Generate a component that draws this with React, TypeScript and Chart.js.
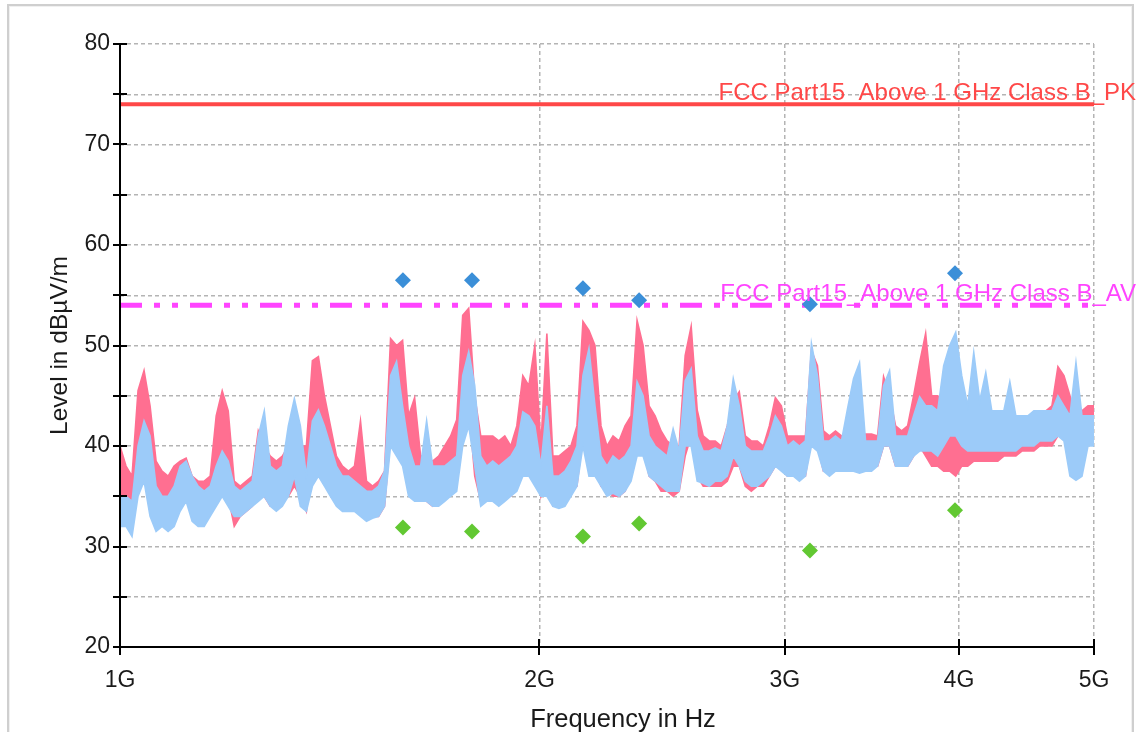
import React, { useEffect, useRef } from "react";
import { Chart, registerables } from "chart.js";

Chart.register(...registerables);

// ---------- data ----------
const SWEEP_START_HZ = 1e9;
const SWEEP_STOP_HZ = 5e9;

// Peak detector trace (pink): upper / lower envelope per sweep bin (dBµV/m)
const PK_HI = [
  40, 38, 37, 45.5, 47.5, 44, 38.5, 37.5, 37, 38,
  38.5, 38.8, 37, 36.5, 36.5, 37, 43, 45.5, 43.5, 36.5,
  36, 36.5, 37, 41.5, 40, 39, 38.5, 39, 40, 42,
  40, 40, 48.5, 48.9, 45, 42, 39, 38, 37.5, 38,
  42.5, 36.5, 36, 36.5, 37.5, 50.7, 50, 50.5, 43, 44.8,
  39, 39, 38.5, 39, 40, 41, 42.6, 53, 53.7, 45,
  41, 41, 41, 40.5, 41, 40, 42, 47, 46, 50,
  40, 51.2, 39, 39, 39.5, 40, 42, 52.4, 51.5, 50,
  42, 40, 41, 40.5, 42, 43, 52.5, 50, 44, 43,
  41.5, 40.5, 40, 40, 49, 51.9, 43.6, 41, 40.5, 40.5,
  40, 42, 44.5, 45.4, 41, 40.5, 40.5, 40, 42, 44.8,
  44, 41, 41, 41, 41, 49.5, 48, 41.5, 41, 41.5,
  41, 41, 41, 41, 41.2, 41.2, 41, 46.9, 45, 42,
  41.5, 42, 45, 48.3, 51.2, 45, 45, 44.5, 43, 43,
  41, 41, 41, 41, 41, 41.5, 41.5, 42, 42, 42.5,
  43, 43, 43, 43.5, 43.5, 44, 47.9, 47, 45, 42.5,
  43.5, 44, 44,
];
const PK_LO = [
  35, 34.5, 33, 36, 38, 35, 33, 33, 33, 33.5,
  34, 35, 33, 33, 33, 33.5, 35, 37, 35, 32,
  33, 33.5, 34, 35, 35, 34, 34, 34.5, 35, 36,
  35, 33.5, 38, 39, 37, 36, 34.5, 34, 34, 34,
  34, 33, 33, 33, 34, 41, 41, 39, 36, 35.5,
  34.5, 34.5, 34, 34.5, 35, 35.5, 36, 43, 44, 37,
  34.5, 35, 35, 34.5, 35, 35, 36, 38, 38, 39,
  35, 37, 34, 34, 34.5, 35.5, 36, 41, 39, 38,
  36, 35.5, 35, 35, 35.5, 37, 41, 40, 37, 36.5,
  35.5, 35.5, 35, 35.5, 39, 41, 37, 36, 36, 36,
  36, 36.5, 38, 38, 36, 35.5, 36, 36, 37, 38,
  38, 37, 37, 37, 37, 41, 40, 37.5, 37.5, 37.5,
  37.5, 38, 38, 37.5, 37.5, 38, 38, 40, 40, 38,
  38, 38, 39, 40, 39, 38, 38, 37.5, 37.5, 37,
  38, 38, 38.5, 38.5, 38.5, 38.5, 38.5, 39, 39, 39,
  39.5, 39.5, 39.5, 40, 40, 40, 41, 41, 40, 39.5,
  40, 41, 41.5,
];
// Average detector trace (light blue)
const AV_HI = [
  35, 35, 34.5, 40, 42.5, 41, 36, 35, 35, 36,
  38, 38.5, 37, 36, 35.5, 36, 38, 39.5, 38.5, 36,
  35.5, 36, 36.5, 41, 43.5, 38, 37.5, 38, 42, 44.7,
  42, 37, 42.5, 43.6, 42, 40, 38, 37, 37, 36.5,
  36, 35.5, 35.5, 36, 37.5, 47, 48.4, 44, 40, 38,
  38, 42.5, 38, 38, 38, 38.5, 39, 47, 49.4, 46,
  39, 38, 38.5, 38, 38.5, 39, 40, 43.4, 43, 42,
  38, 44, 37, 37, 37.5, 38.5, 40, 47, 49.7, 44,
  39, 38, 39, 38.5, 39, 40, 46.4, 45, 41, 40,
  39.5, 39, 41.7, 39.5, 46.5, 47.7, 41, 39.5, 39.5, 39.8,
  39.5, 42, 46.7, 44, 40, 39.5, 39.5, 39.5, 41, 43,
  42, 40, 40.5, 40, 40.5, 50.2, 47, 40.5, 40.5, 41,
  40.5, 43.7, 46.7, 48.3, 40.5, 40.5, 40.5, 46, 47.5, 41,
  41, 41, 43, 44.9, 44, 44, 43.5, 48, 50, 51.3,
  47, 44, 49.3, 44.5, 47.3, 43.5, 43.5, 43.5, 46.4, 43,
  43, 43, 43.5, 43.5, 43.5, 43.5, 45, 44, 43, 48.3,
  43, 43, 43,
];
const AV_LO = [
  32, 32, 31, 35, 36.5, 33, 31.5, 32, 31.5, 32,
  33.5, 34.5, 32.5, 32, 32, 33, 34, 35, 34, 33,
  33, 33.5, 34, 34.5, 35, 34, 33.5, 34, 35, 37,
  34, 33.5, 36, 37, 36, 35, 34, 33.5, 33.5, 33.5,
  33, 32.5, 32.8, 33, 34, 40, 39, 38, 35, 34.5,
  34.5, 34.5, 34, 34, 34.5, 35, 35.5, 40, 42, 38,
  34, 34.5, 34.5, 34, 34.5, 35, 35.5, 37, 37, 36,
  35, 35, 34, 33.8, 34, 35, 36, 40, 37, 37,
  36, 35, 35.3, 35, 35.5, 36.5, 39, 39, 37, 36.5,
  36, 35.5, 35.5, 35.5, 40, 40, 36.5, 36.3, 36, 36.5,
  36.5, 37, 39, 38, 36.5, 36, 36, 36.5, 37, 38,
  37.5, 37, 37, 36.5, 37, 40, 39.5, 37.5, 37, 37.5,
  37.5, 37.5, 37.5, 37.3, 37.5, 37.5, 38, 40, 40, 38,
  38, 38, 39, 39.5, 39.5, 39.5, 39, 40, 41, 41,
  40, 39.5, 39.5, 39.5, 39.5, 39.5, 39.5, 39.5, 39.5, 39.5,
  40, 40, 40, 40.5, 40.5, 40.5, 41, 40.5, 37, 36.6,
  37, 40, 40,
];

// Final measurement markers
const MARKER_FREQS_HZ = [1.596e9, 1.789e9, 2.149e9, 2.358e9, 3.127e9, 3.974e9];
const MARKER_PEAK = [56.5, 56.5, 55.7, 54.5, 54.1, 57.2];
const MARKER_AVG = [31.9, 31.5, 31.0, 32.3, 29.6, 33.6];

// Limit lines
const LIMIT_FREQS_HZ = [1e9, 5e9];
const LIMIT_PK = [74, 74];
const LIMIT_AV = [54, 54];
const LIMIT_PK_LABEL = "FCC Part15_Above 1 GHz Class B_PK";
const LIMIT_AV_LABEL = "FCC Part15_Above 1 GHz Class B_AV";

// Axes
const X_TICKS = [1e9, 2e9, 3e9, 4e9, 5e9];
const X_TICK_LABELS = ["1G", "2G", "3G", "4G", "5G"];
const Y_TICKS = [20, 25, 30, 35, 40, 45, 50, 55, 60, 65, 70, 75, 80];
const Y_TICK_LABELS = ["20", "", "30", "", "40", "", "50", "", "60", "", "70", "", "80"];
const X_TITLE = "Frequency in Hz";
const Y_TITLE = "Level in dBµV/m";

// ---------- styles ----------
const FONT = '"Liberation Sans", Arial, sans-serif';
const PK_COLOR = "#ff6f91";
const AV_COLOR = "#9ccbf9";
const LIM_PK_COLOR = "#ff4848";
const LIM_AV_COLOR = "#ff44ff";
const PEAK_MARK_COLOR = "#3b8fd8";
const AVG_MARK_COLOR = "#62c832";

// sweep bin frequencies (logarithmic sweep grid between start and stop)
function sweepPoints(vals: number[]) {
  const n = vals.length;
  const ratio = SWEEP_STOP_HZ / SWEEP_START_HZ;
  return vals.map((v, i) => ({ x: SWEEP_START_HZ * Math.pow(ratio, i / (n - 1)), y: v }));
}

const decorPlugin = {
  id: "decor",
  afterDatasetsDraw(chart: any) {
    const { ctx, chartArea: a, scales } = chart;
    const x = scales.x;
    const y = scales.y;
    ctx.save();
    // limit labels
    ctx.font = `24px ${FONT}`;
    ctx.textAlign = "right";
    ctx.textBaseline = "alphabetic";
    ctx.fillStyle = LIM_PK_COLOR;
    ctx.fillText(LIMIT_PK_LABEL, a.right + 42, y.getPixelForValue(LIMIT_PK[1]) - 4);
    ctx.fillStyle = LIM_AV_COLOR;
    ctx.fillText(LIMIT_AV_LABEL, a.right + 42, y.getPixelForValue(LIMIT_AV[1]) - 4);

    // axes
    ctx.strokeStyle = "#000";
    ctx.lineWidth = 2;
    ctx.beginPath();
    ctx.moveTo(a.left, a.top);
    ctx.lineTo(a.left, a.bottom);
    ctx.lineTo(a.right, a.bottom);
    ctx.stroke();
    // crossing tick marks
    ctx.beginPath();
    for (const t of y.ticks) {
      const py = Math.round(y.getPixelForValue(t.value));
      ctx.moveTo(a.left - 7, py);
      ctx.lineTo(a.left + 7, py);
    }
    for (const t of x.ticks) {
      const px = Math.round(x.getPixelForValue(t.value));
      ctx.moveTo(px, a.bottom - 8);
      ctx.lineTo(px, a.bottom + 8);
    }
    ctx.stroke();

    // x axis title
    ctx.font = `25.5px ${FONT}`;
    ctx.fillStyle = "#1a1a1a";
    ctx.textAlign = "center";
    ctx.textBaseline = "alphabetic";
    ctx.fillText(X_TITLE, (a.left + a.right) / 2 + 16, 727);
    ctx.restore();
  },
};

export default function App() {
  const ref = useRef<HTMLCanvasElement | null>(null);

  useEffect(() => {
    if (!ref.current) return;
    Chart.defaults.font.family = FONT;
    const grid = {
      color: "#b4b4b4",
      lineWidth: 1.5,
      drawTicks: false,
    };
    const trace = (label: string, vals: number[], color: string, order: number, fill: any) => ({
      label,
      data: sweepPoints(vals),
      borderColor: color,
      backgroundColor: color,
      borderWidth: 1.6,
      pointRadius: 0,
      tension: 0,
      fill,
      order,
    });
    const chart = new Chart(ref.current, {
      type: "line",
      data: {
        datasets: [
          {
            label: "Peak markers",
            data: MARKER_FREQS_HZ.map((f, i) => ({ x: f, y: MARKER_PEAK[i] })),
            showLine: false,
            pointStyle: "rectRot",
            pointRadius: 8,
            pointBackgroundColor: PEAK_MARK_COLOR,
            pointBorderWidth: 0,
            borderColor: PEAK_MARK_COLOR,
            order: 0,
          },
          {
            label: "Average markers",
            data: MARKER_FREQS_HZ.map((f, i) => ({ x: f, y: MARKER_AVG[i] })),
            showLine: false,
            pointStyle: "rectRot",
            pointRadius: 8,
            pointBackgroundColor: AVG_MARK_COLOR,
            pointBorderWidth: 0,
            borderColor: AVG_MARK_COLOR,
            order: 0,
          },
          {
            label: LIMIT_PK_LABEL,
            data: LIMIT_FREQS_HZ.map((f, i) => ({ x: f, y: LIMIT_PK[i] })),
            borderColor: LIM_PK_COLOR,
            borderWidth: 4,
            pointRadius: 0,
            order: 1,
          },
          {
            label: LIMIT_AV_LABEL,
            data: LIMIT_FREQS_HZ.map((f, i) => ({ x: f, y: LIMIT_AV[i] })),
            borderColor: LIM_AV_COLOR,
            borderWidth: 5,
            borderDash: [22, 12, 6, 12, 6, 12],
            borderCapStyle: "butt",
            pointRadius: 0,
            order: 1,
          },
          trace("AV max", AV_HI, AV_COLOR, 2, false),
          trace("AV min", AV_LO, AV_COLOR, 2, "-1"),
          trace("PK max", PK_HI, PK_COLOR, 3, false),
          trace("PK min", PK_LO, PK_COLOR, 3, "-1"),
        ],
      },
      options: {
        animation: false,
        responsive: false,
        events: [],
        layout: { padding: { left: 46, right: 46, top: 44, bottom: 0 } },
        plugins: {
          legend: { display: false },
          tooltip: { enabled: false },
          filler: { drawTime: "beforeDatasetDraw" },
        },
        scales: {
          x: {
            type: "logarithmic",
            min: SWEEP_START_HZ,
            max: SWEEP_STOP_HZ,
            grid,
            border: { display: false, dash: [4, 3] },
            afterBuildTicks: (s: any) => {
              s.ticks = X_TICKS.map((v) => ({ value: v }));
            },
            afterFit: (s: any) => {
              s.height = 85;
            },
            ticks: {
              autoSkip: false,
              maxRotation: 0,
              padding: 20,
              color: "#1a1a1a",
              font: { size: 23, family: FONT },
              callback: (_v: any, i: number) => X_TICK_LABELS[i],
            },
          },
          y: {
            type: "linear",
            min: 20,
            max: 80,
            grid,
            border: { display: false, dash: [4, 3] },
            afterBuildTicks: (s: any) => {
              s.ticks = Y_TICKS.map((v) => ({ value: v }));
            },
            afterFit: (s: any) => {
              s.width = 74;
            },
            ticks: {
              autoSkip: false,
              padding: 10,
              color: "#1a1a1a",
              font: { size: 23, family: FONT },
              callback: (_v: any, i: number) => Y_TICK_LABELS[i],
            },
            title: {
              display: true,
              text: Y_TITLE,
              color: "#1a1a1a",
              padding: 0,
              font: { size: 24.5, family: FONT },
            },
          },
        },
      },
      plugins: [decorPlugin],
    } as any);
    return () => chart.destroy();
  }, []);

  return (
    <div
      style={{
        position: "fixed",
        left: 0,
        top: 0,
        width: 1140,
        height: 732,
        overflow: "hidden",
        background: "#fff",
      }}
    >
      <div
        style={{
          position: "absolute",
          left: 7,
          top: 4,
          width: 1127,
          height: 800,
          boxSizing: "border-box",
          border: "2px solid #cfcfcf",
          boxShadow: "inset 0 0 0 1px #f0f0f0",
        }}
      />
      <canvas
        ref={ref}
        width={1140}
        height={732}
        style={{ position: "absolute", left: 0, top: 0, width: 1140, height: 732 }}
      />
    </div>
  );
}
